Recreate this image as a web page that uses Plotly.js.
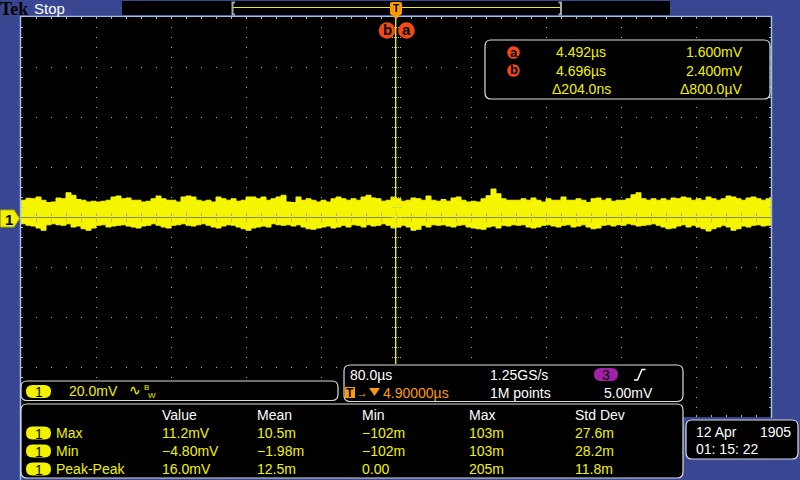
<!DOCTYPE html>
<html><head><meta charset="utf-8">
<script src="https://cdn.plot.ly/plotly-3.0.1.min.js"></script>
<style>html,body{margin:0;padding:0;background:#394691;overflow:hidden}</style>
</head><body><div id="chart" style="width:800px;height:480px"></div>
<script>
const timePerDiv_us = 80.0;      // horizontal scale
const delay_us = 4.9;            // screen centre time
const voltsPerDiv_mV = 20.0;     // Ch1 scale
const upperMv = [
6.7,7.5,7.3,8.0,6.7,5.8,6.0,7.6,7.3,9.7,
8.7,7.0,6.7,6.0,6.3,6.0,6.3,6.7,8.0,8.4,
7.3,7.6,6.7,6.7,6.0,6.3,7.3,8.4,7.3,6.7,
6.7,6.0,8.0,8.4,8.0,6.7,6.3,6.7,6.0,8.0,
7.3,6.7,7.3,6.3,6.7,8.0,8.0,7.3,8.0,6.7,
7.3,8.0,8.7,6.0,5.8,8.0,6.7,7.3,6.7,6.0,
6.7,6.0,7.3,8.0,7.3,6.7,7.3,6.7,8.0,8.7,
7.6,7.3,6.3,6.7,8.0,7.3,6.3,6.7,7.6,7.3,
6.7,8.4,6.7,6.3,7.0,6.3,7.6,8.0,6.7,6.0,
6.3,6.0,7.3,8.5,11.2,9.3,7.3,6.7,6.7,6.7,
7.3,6.7,7.6,6.7,6.0,7.3,6.7,6.7,8.0,6.7,
6.7,7.3,6.7,5.8,7.3,7.6,6.7,7.3,6.3,6.7,
6.7,7.3,8.9,9.7,7.3,6.7,7.3,6.7,7.3,6.7,
7.6,7.3,8.0,7.6,6.7,7.3,6.7,8.0,7.3,6.7,
7.3,8.4,8.0,7.3,6.7,7.6,8.0,7.3,6.7,7.3];
const lowerMv = [
-2.7,-3.3,-3.6,-4.4,-5.3,-3.1,-2.7,-3.1,-3.3,-2.7,
-4.0,-3.6,-4.7,-5.3,-4.4,-3.3,-3.1,-4.0,-3.6,-3.3,
-3.1,-3.6,-4.0,-4.4,-3.6,-3.3,-2.7,-3.3,-4.0,-4.4,
-3.3,-3.1,-2.7,-3.3,-3.6,-3.1,-2.7,-3.3,-4.0,-4.4,
-3.6,-3.1,-3.3,-4.0,-4.7,-5.3,-4.4,-4.0,-3.6,-4.0,
-2.7,-3.1,-3.3,-3.1,-3.6,-3.1,-4.0,-4.7,-4.9,-4.4,
-4.0,-3.6,-4.4,-4.0,-3.3,-4.0,-3.1,-3.3,-4.0,-3.1,
-3.6,-3.3,-2.7,-3.3,-4.4,-4.0,-3.3,-4.0,-5.3,-4.9,
-3.3,-4.0,-3.1,-3.3,-3.1,-3.6,-4.0,-3.3,-3.1,-4.0,
-4.4,-4.7,-4.9,-4.0,-3.6,-4.4,-3.3,-3.6,-3.1,-3.3,
-3.1,-4.0,-4.4,-4.0,-3.3,-3.1,-3.6,-4.0,-3.3,-3.1,
-4.0,-3.6,-3.1,-4.0,-4.7,-4.4,-3.3,-3.1,-3.6,-3.1,
-3.3,-2.7,-3.1,-3.6,-3.3,-3.1,-2.7,-3.3,-4.0,-4.7,
-4.4,-3.6,-3.1,-4.0,-3.3,-4.0,-4.7,-5.6,-4.7,-4.0,
-3.3,-4.0,-5.3,-4.7,-3.6,-4.0,-3.3,-3.1,-3.6,-3.3];
const cursorTimes_us = [4.492, 4.696];
const cursorA = ['4.492µs', '1.600mV'];
const cursorB = ['4.696µs', '2.400mV'];
const cursorDelta = ['Δ204.0ns', 'Δ800.0µV'];
const measHeaders = ['Value', 'Mean', 'Min', 'Max', 'Std Dev'];
const measLabels = ['Max', 'Min', 'Peak-Peak'];
const measValue = ['11.2mV', '−4.80mV', '16.0mV'];
const measMean = ['10.5m', '−1.98m', '12.5m'];
const measMin = ['−102m', '−102m', '0.00'];
const measMax = ['103m', '103m', '205m'];
const measStd = ['27.6m', '28.2m', '11.8m'];
const chScaleText = '20.0mV';
const horizText = ['80.0µs', '1.25GS/s', '4.90000µs', '1M points'];
const trigLevelText = '5.00mV';
const dateText = ['12 Apr', '1905', '01: 15: 22'];

// ---- geometry helpers ----
const L = 21, T = 17, W = 750, H = 400;
const px = X => (X - L) / W;
const py = Y => (T + H - Y) / H;
const xMin = delay_us - 5 * timePerDiv_us, xMax = delay_us + 5 * timePerDiv_us;
const yMin = -4 * voltsPerDiv_mV, yMax = 4 * voltsPerDiv_mV;
const pxPerDivX = W / 10, pxPerDivY = H / 8;

const FONT = 'Liberation Sans, Arial, sans-serif';
const YEL = '#f2f200', TRACE = '#f5f500', ORG = '#ff9a00', RED = '#f24a12', BLUE = '#394691', LBLUE = '#9fc0ea', GRID = '#b4b4b4', BORDER = '#dcdcdc';

const shapes = [];
const ann = [];
function line(X0, Y0, X1, Y1, color, width, dash) {
  shapes.push({type: 'line', xref: 'paper', yref: 'paper', x0: px(X0), y0: py(Y0), x1: px(X1), y1: py(Y1),
    line: {color: color, width: width || 1, dash: dash || 'solid'}});
}
function rect(X0, Y0, X1, Y1, fill, lc, lw) {
  shapes.push({type: 'rect', xref: 'paper', yref: 'paper', x0: px(X0), y0: py(Y1), x1: px(X1), y1: py(Y0),
    fillcolor: fill, line: {color: lc || fill, width: lw === undefined ? 0 : lw}});
}
function P(X, Y) { return px(X).toFixed(5) + ',' + py(Y).toFixed(5); }
function rrect(X0, Y0, X1, Y1, r, fill, lc, lw) {
  const d = 'M' + P(X0 + r, Y0) + ' L' + P(X1 - r, Y0) + ' Q' + P(X1, Y0) + ' ' + P(X1, Y0 + r) +
    ' L' + P(X1, Y1 - r) + ' Q' + P(X1, Y1) + ' ' + P(X1 - r, Y1) + ' L' + P(X0 + r, Y1) +
    ' Q' + P(X0, Y1) + ' ' + P(X0, Y1 - r) + ' L' + P(X0, Y0 + r) + ' Q' + P(X0, Y0) + ' ' + P(X0 + r, Y0) + ' Z';
  shapes.push({type: 'path', xref: 'paper', yref: 'paper', path: d, fillcolor: fill,
    line: {color: lc || fill, width: lw === undefined ? 0 : lw}});
}
function path(pts, fill, lc, lw) {
  const d = pts.map((p, i) => (i ? 'L' : 'M') + P(p[0], p[1])).join(' ') + (fill ? ' Z' : '');
  shapes.push({type: 'path', xref: 'paper', yref: 'paper', path: d, fillcolor: fill || 'rgba(0,0,0,0)',
    line: {color: lc || fill, width: lw === undefined ? 0 : lw}});
}
function circ(cx, cy, r, fill) {
  shapes.push({type: 'circle', xref: 'paper', yref: 'paper', x0: px(cx - r), x1: px(cx + r), y0: py(cy + r), y1: py(cy - r),
    fillcolor: fill, line: {width: 0}});
}
function txt(X, Y, s, color, size, anchor, family, weight) {
  ann.push({xref: 'paper', yref: 'paper', x: px(X), y: py(Y), text: s, showarrow: false,
    xanchor: anchor || 'left', yanchor: 'middle', borderpad: 0,
    font: {family: family || FONT, size: size || 14, color: color, weight: weight || 'normal'}});
}
function pill(X0, X1, Yc, h, fill, label) {
  rrect(X0, Yc - h / 2, X1, Yc + h / 2, h / 2, fill);
  txt((X0 + X1) / 2, Yc + 0.5, label, '#000', 14, 'center');
}

// ---- graticule centre crosshair (drawn over the trace) ----
const CX = L + 5 * pxPerDivX, CY = T + 4 * pxPerDivY;   // screen centre in px
line(L, CY + 0.5, L + W, CY + 0.5, '#86863c', 1);
for (let X = L + 15; X < L + W; X += 15) {
  line(X + 0.5, CY - 4, X + 0.5, CY + 5, '#8a8a98', 1, '1px,1px');
}
for (let Y = T + 10; Y < T + H; Y += 10) {
  line(CX - 4, Y + 0.5, CX + 5, Y + 0.5, GRID, 1, '1px,1px');
}

// ---- cursors ----
cursorTimes_us.forEach(t => shapes.push({type: 'line', xref: 'x', yref: 'paper', x0: t, x1: t, y0: py(364), y1: py(18),
  line: {color: YEL, width: 1}}));

// ---- frame ----
line(20.5, 16, 20.5, 480, LBLUE, 1.5);
line(20, 16.3, 771.5, 16.3, LBLUE, 1.2);
line(771.5, 16, 771.5, 418, LBLUE, 1.5);

// ---- top bar ----
txt(-1, 8.5, 'Tek', '#000', 18, 'left', 'Liberation Serif, serif', 'bold');
txt(33, 8.5, 'Stop', '#ffffff', 15);
rect(122, 1, 670, 15, '#000000');
line(233, 7.5, 561, 7.5, '#f0f000', 1.2);
path([[235, 2.5], [232.5, 2.5], [232.5, 14.5], [235, 14.5]], null, '#a8a8a8', 2);
path([[558.5, 2.5], [561, 2.5], [561, 14.5], [558.5, 14.5]], null, '#a8a8a8', 2);
rrect(390, 2, 402, 15, 2, ORG);
path([[392.5, 15], [399.5, 15], [396, 20]], ORG);
txt(396.3, 8.5, 'T', '#000', 10, 'center', FONT, 'bold');
circ(387, 30.5, 8.3, RED);
circ(406.5, 30.5, 8.3, RED);
txt(387, 30, 'b', '#000', 15, 'center', FONT, 'bold');
txt(406.5, 30, 'a', '#000', 15, 'center', FONT, 'bold');

// ---- channel marker ----
path([[0.5, 210], [14, 210], [19.5, 218.5], [14, 227], [0.5, 227]], YEL, '#b0b000', 1);
txt(8.5, 219, '1', '#000', 15, 'center', FONT, 'bold');

// ---- cursor readout ----
rrect(485, 40, 770, 99, 6, '#000000', BORDER, 1.2);
circ(513.5, 52.5, 6.3, RED); txt(513.5, 52, 'a', '#000', 13, 'center', FONT, 'bold');
circ(513.5, 70.5, 6.3, RED); txt(513.5, 70, 'b', '#000', 13, 'center', FONT, 'bold');
txt(555, 52, cursorA[0], YEL); txt(685, 52, cursorA[1], YEL);
txt(555, 70.5, cursorB[0], YEL); txt(685, 70.5, cursorB[1], YEL);
txt(551, 89, cursorDelta[0], YEL); txt(679, 89, cursorDelta[1], YEL);

// ---- channel scale box ----
rrect(21, 381, 338, 400.5, 6, '#000000', BORDER, 1.2);
pill(26, 51, 391.5, 13, YEL, '1');
txt(68, 391, chScaleText, YEL);
txt(128, 390, '∿', YEL, 14);
txt(143, 387, 'B', YEL, 8);
txt(147, 395, 'W', YEL, 8);

// ---- horizontal / trigger box ----
rrect(344, 365, 683, 401.5, 6, '#000000', BORDER, 1.2);
txt(349, 375, horizText[0], '#ffffff');
txt(489, 375, horizText[1], '#ffffff');
pill(594, 618, 374.5, 13, '#a020a8', '3');
path([[634, 380], [637.5, 380], [642, 369.5], [645.5, 369.5]], null, '#ffffff', 1.5);
rect(345, 387, 355, 398, ORG);
txt(350, 392.8, 'T', '#000', 12, 'center', FONT, 'bold');
txt(355, 392.5, '→', ORG, 12);
path([[369, 388], [380, 388], [374.5, 396]], ORG);
txt(382, 393, horizText[2], ORG);
txt(489, 393, horizText[3], '#ffffff');
txt(603, 393, trigLevelText, '#ffffff');

// ---- measurement box ----
rrect(21, 404, 683, 478, 6, '#000000', BORDER, 1.2);
const colX = [161, 256, 361, 468, 574];
measHeaders.forEach((h, i) => txt(colX[i], 414.5, h, '#ffffff'));
const cols = [measValue, measMean, measMin, measMax, measStd];
const rowY = [433, 451, 469];
measLabels.forEach((lab, r) => {
  pill(26, 51, rowY[r], 13, YEL, '1');
  txt(55, rowY[r], lab, YEL);
  cols.forEach((c, i) => txt(colX[i], rowY[r], c[r], YEL));
});

// ---- date box ----
rrect(686, 420, 798, 459, 6, '#000000', BORDER, 1.2);
txt(695, 432, dateText[0], '#ffffff');
txt(792, 432, dateText[1], '#ffffff', 14, 'right');
txt(695, 449, dateText[2], '#ffffff');

// ---- trace: Ch1 envelope ----
const nCols = upperMv.length;
const tx = [];
for (let i = 0; i <= nCols; i++) tx.push(xMin + i * (xMax - xMin) / nCols);
const up = upperMv.concat([upperMv[nCols - 1]]);
const lo = lowerMv.concat([lowerMv[nCols - 1]]);

const traces = [
  {x: tx, y: up, type: 'scatter', mode: 'lines', line: {color: TRACE, width: 1, shape: 'hv'}, hoverinfo: 'skip', showlegend: false},
  {x: tx, y: lo, type: 'scatter', mode: 'lines', fill: 'tonexty', fillcolor: TRACE, line: {color: TRACE, width: 1, shape: 'hv'}, hoverinfo: 'skip', showlegend: false}
];

const layout = {
  width: 800, height: 480,
  margin: {l: L, r: 800 - L - W, t: T, b: 480 - T - H, pad: 0},
  paper_bgcolor: BLUE, plot_bgcolor: '#000000',
  xaxis: {range: [xMin, xMax], tick0: delay_us, dtick: timePerDiv_us, showgrid: true, gridcolor: GRID, gridwidth: 1, griddash: '1px,9px',
          zeroline: false, showticklabels: false, ticks: 'inside', ticklen: 2, tickcolor: GRID, mirror: 'ticks', showline: false,
          minor: {dtick: timePerDiv_us / 5, tick0: delay_us, ticks: 'inside', ticklen: 2, tickcolor: GRID, showgrid: false},
          fixedrange: true},
  yaxis: {range: [yMin, yMax], tick0: 0, dtick: voltsPerDiv_mV, showgrid: true, gridcolor: GRID, gridwidth: 1, griddash: '1px,14px',
          zeroline: false, showticklabels: false, ticks: 'inside', ticklen: 2, tickcolor: GRID, mirror: 'ticks', showline: false,
          minor: {dtick: voltsPerDiv_mV / 5, tick0: 0, ticks: 'inside', ticklen: 2, tickcolor: GRID, showgrid: false},
          fixedrange: true},
  shapes: shapes, annotations: ann, showlegend: false
};
Plotly.newPlot('chart', traces, layout, {staticPlot: true, displayModeBar: false});
</script></body></html>
